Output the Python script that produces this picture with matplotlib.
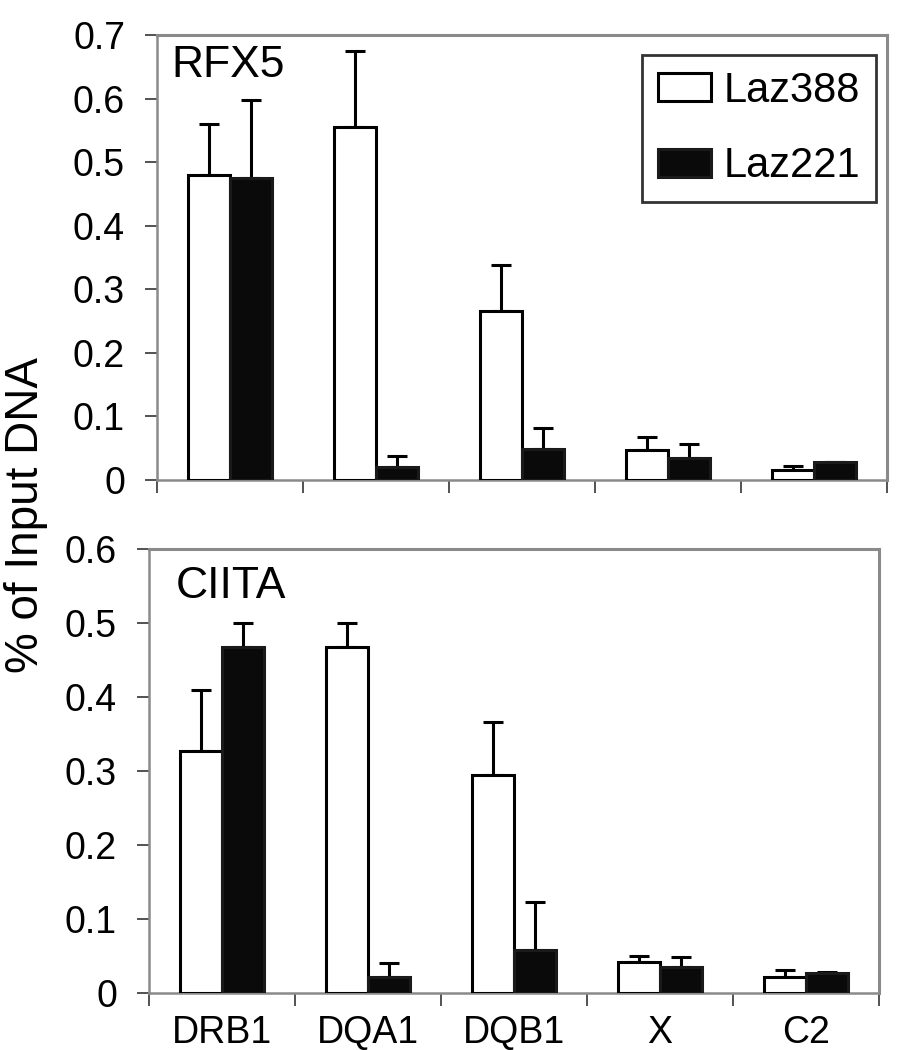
import matplotlib
matplotlib.use("Agg")
import matplotlib.pyplot as plt
import numpy as np

plt.rcParams['font.family'] = ['Liberation Sans', 'DejaVu Sans']

categories = ["DRB1", "DQA1", "DQB1", "X", "C2"]
series = ["Laz388", "Laz221"]

rfx5_laz388 = [0.480, 0.555, 0.266, 0.047, 0.016]
rfx5_laz388_err = [0.080, 0.120, 0.072, 0.021, 0.006]
rfx5_laz221 = [0.475, 0.020, 0.049, 0.035, 0.028]
rfx5_laz221_err = [0.122, 0.018, 0.033, 0.022, 0.001]

ciita_laz388 = [0.327, 0.467, 0.295, 0.042, 0.022]
ciita_laz388_err = [0.083, 0.033, 0.071, 0.008, 0.009]
ciita_laz221 = [0.467, 0.022, 0.058, 0.035, 0.027]
ciita_laz221_err = [0.033, 0.018, 0.065, 0.014, 0.002]

W, H = 902, 1050
fig = plt.figure(figsize=(W / 100, H / 100), dpi=100)

spine_col = '#8a8a8a'
bar_lw = 2.2
bw = 0.29
tick_fs = 27


def make_panel(rect, v1, e1, v2, e2, ymax, yticks, title, title_xy, show_labels, legend):
    ax = fig.add_axes(rect)
    x = np.arange(len(categories))
    ax.bar(x - bw / 2, v1, bw, color='white', edgecolor='black', linewidth=bar_lw,
           label=series[0], zorder=3)
    ax.bar(x + bw / 2, v2, bw, color='#0a0a0a', edgecolor='#1a1a1a', linewidth=bar_lw,
           label=series[1], zorder=3)
    ax.errorbar(x - bw / 2, v1, yerr=[np.zeros(len(e1)), e1], fmt='none', ecolor='black',
                elinewidth=2.2, capsize=7.5, capthick=2.2, zorder=2)
    ax.errorbar(x + bw / 2, v2, yerr=[np.zeros(len(e2)), e2], fmt='none', ecolor='black',
                elinewidth=2.2, capsize=7.5, capthick=2.2, zorder=2)
    ax.set_xlim(-0.5, len(categories) - 0.5)
    ax.set_ylim(0, ymax)
    ax.set_yticks(yticks)
    ax.set_yticklabels([('0' if t == 0 else f'{t:.1f}') for t in yticks])
    ax.set_xticks(np.arange(len(categories) + 1) - 0.5)
    ax.set_xticklabels([])
    ax.set_xticks(x, minor=True)
    if show_labels:
        ax.set_xticklabels(categories, minor=True)
    else:
        ax.set_xticklabels([], minor=True)
    ax.tick_params(axis='x', which='major', length=9, width=1.3, color='#444444', direction='out')
    ax.tick_params(axis='x', which='minor', length=0, pad=16, labelsize=tick_fs)
    ax.tick_params(axis='y', which='major', length=9, width=1.3, color='#444444',
                   direction='out', pad=14, labelsize=tick_fs)
    for s in ax.spines.values():
        s.set_color(spine_col)
        s.set_linewidth(2.2)
    ax.spines['left'].set_linewidth(1.8)
    ax.spines['bottom'].set_linewidth(1.8)
    ax.text(title_xy[0], title_xy[1], title, transform=ax.transAxes, fontsize=32,
            ha='left', va='baseline')
    if legend:
        leg = ax.legend(loc='upper right', bbox_to_anchor=(0.985, 0.955), borderaxespad=0,
                        fontsize=30, frameon=True, fancybox=False, edgecolor='black',
                        handlelength=1.28, handleheight=0.65, labelspacing=0.85,
                        handletextpad=0.3, borderpad=0.38)
        leg.get_frame().set_linewidth(2.0)
    return ax


make_panel([157 / W, (H - 480) / H, 730 / W, 445 / H],
           rfx5_laz388, rfx5_laz388_err, rfx5_laz221, rfx5_laz221_err,
           0.7, [0, 0.1, 0.2, 0.3, 0.4, 0.5, 0.6, 0.7], 'RFX5', (0.02, 0.906), False, True)
make_panel([149 / W, (H - 993) / H, 730 / W, 444 / H],
           ciita_laz388, ciita_laz388_err, ciita_laz221, ciita_laz221_err,
           0.6, [0, 0.1, 0.2, 0.3, 0.4, 0.5, 0.6], 'CIITA', (0.036, 0.89), True, False)

fig.text(26 / W, 1 - 515 / H, '% of Input DNA', rotation=90, ha='center', va='center',
         fontsize=33)

fig.savefig('out.png', dpi=100)
